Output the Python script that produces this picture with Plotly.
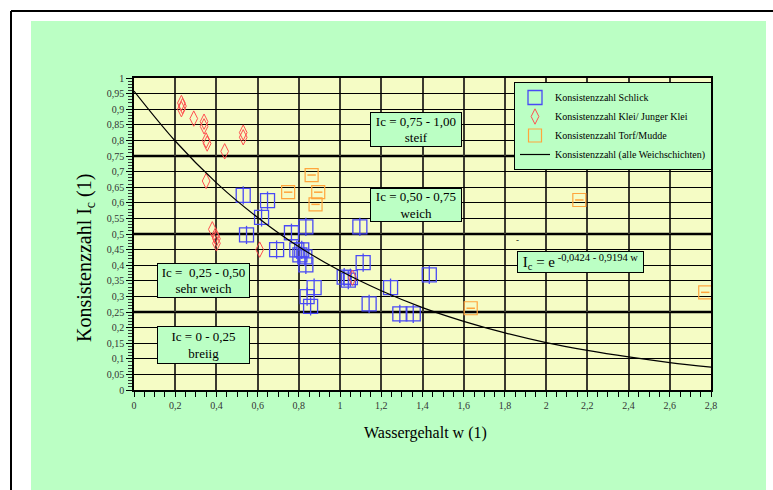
import plotly.graph_objects as go

# ---------------- data ----------------
schlick_w = [0.53, 0.648, 0.619, 0.546, 0.692, 0.764, 0.834, 1.096, 0.79, 0.814, 0.805,
             0.829, 0.834, 1.112, 1.02, 1.04, 1.05, 0.874, 0.84, 0.857, 1.141, 1.245,
             1.433, 1.29, 1.355]
schlick_ic = [0.624, 0.607, 0.553, 0.497, 0.450, 0.504, 0.523, 0.523, 0.449, 0.449, 0.433,
              0.427, 0.401, 0.408, 0.362, 0.352, 0.360, 0.328, 0.299, 0.268, 0.276, 0.328,
              0.369, 0.244, 0.244]

klei_w = [0.23, 0.235, 0.23, 0.29, 0.34, 0.34, 0.35, 0.355, 0.53, 0.53, 0.44, 0.35,
          0.38, 0.395, 0.40, 0.40, 0.61, 1.06]
klei_ic = [0.90, 0.91, 0.92, 0.87, 0.86, 0.845, 0.80, 0.79, 0.81, 0.825, 0.765, 0.67,
           0.515, 0.495, 0.485, 0.47, 0.45, 0.36]

torf_w = [0.862, 0.748, 0.894, 0.881, 2.161, 1.634, 2.772]
torf_ic = [0.689, 0.634, 0.634, 0.595, 0.609, 0.262, 0.313]

fit_w = [0, 0.2, 0.4, 0.6, 0.8, 1.0, 1.2, 1.4, 1.6, 1.8, 2.0, 2.2, 2.4, 2.6, 2.8]
fit_ic = [0.958, 0.798, 0.664, 0.553, 0.459, 0.382, 0.318, 0.264, 0.220, 0.183,
          0.152, 0.127, 0.106, 0.088, 0.073]

zone_limits = [0.25, 0.5, 0.75]

legend_names = ["Konsistenzzahl Schlick", "Konsistenzzahl Klei/ Junger Klei",
                "Konsistenzzahl Torf/Mudde", "Konsistenzzahl (alle Weichschichten)"]

zone_labels = ["Ic = 0,75 - 1,00<br>steif", "Ic = 0,50 - 0,75<br>weich",
               "Ic =  0,25 - 0,50<br>sehr weich", "Ic = 0 - 0,25<br>breiig"]
formula_label = "I<sub>c</sub> = e<sup> -0,0424 - 0,9194 w</sup>"

x_title = "Wassergehalt w (1)"
y_title = "Konsistenzzahl I<sub>c</sub> (1)"

# ---------------- layout geometry ----------------
W, H = 773, 490
PL, PR, PT, PB = 134, 711, 78, 390


def px(x):
    return (x - PL) / (PR - PL)


def py(y):
    return (PB - y) / (PB - PT)


GREEN = "#bbffc4"
YELLOW = "#f5fcc5"
BLUE = "#4a4af5"
RED = "#ff5050"
ORANGE = "#ffa53c"
FONT = "Liberation Serif"

fig = go.Figure()

fig.add_trace(go.Scatter(x=schlick_w, y=schlick_ic, mode="markers", name=legend_names[0],
                         marker=dict(symbol="square-open", size=14, color=BLUE,
                                     line=dict(width=1.3, color=BLUE))))
fig.add_trace(go.Scatter(x=schlick_w, y=schlick_ic, mode="markers", showlegend=False,
                         hoverinfo="skip",
                         marker=dict(symbol="line-ns", size=13, color=BLUE,
                                     line=dict(width=1.3, color=BLUE))))
fig.add_trace(go.Scatter(x=klei_w, y=klei_ic, mode="markers", name=legend_names[1],
                         marker=dict(symbol="diamond-tall-open", size=11, color=RED,
                                     line=dict(width=1, color=RED))))
fig.add_trace(go.Scatter(x=torf_w, y=torf_ic, mode="markers", name=legend_names[2],
                         marker=dict(symbol="square-open", size=13, color=ORANGE,
                                     line=dict(width=1.2, color=ORANGE))))
fig.add_trace(go.Scatter(x=torf_w, y=torf_ic, mode="markers", showlegend=False,
                         hoverinfo="skip",
                         marker=dict(symbol="line-ew", size=6, color=ORANGE,
                                     line=dict(width=1.5, color=ORANGE))))
fig.add_trace(go.Scatter(x=fit_w, y=fit_ic, mode="lines", name=legend_names[3],
                         line=dict(color="black", width=1.2, shape="spline")))

shapes = [
    # green chart area
    dict(type="rect", xref="paper", yref="paper", x0=px(31), x1=px(766), y0=py(500), y1=py(21),
         fillcolor=GREEN, line=dict(width=0), layer="below"),
    # yellow plot area
    dict(type="rect", xref="paper", yref="paper", x0=0, x1=1, y0=0, y1=1,
         fillcolor=YELLOW, line=dict(width=0), layer="below"),
    # outer frame lines
    dict(type="line", xref="paper", yref="paper", x0=px(11), x1=px(775), y0=py(11), y1=py(11),
         line=dict(color="black", width=2)),
    dict(type="line", xref="paper", yref="paper", x0=px(11), x1=px(11), y0=py(11), y1=py(500),
         line=dict(color="black", width=2)),
]
for z in zone_limits:
    shapes.append(dict(type="line", xref="paper", yref="y", x0=0, x1=1, y0=z, y1=z,
                       line=dict(color="black", width=2.5), layer="below"))

box_font = dict(family=FONT, size=13, color="black")
boxes = [  # (center x px, center y px, w, h)
    (416, 129.5, 92, 35),
    (416, 205, 92, 34),
    (203.5, 280.5, 93, 35),
    (203.5, 345, 93, 38),
]
annotations = []
for txt, (cx, cy, bw, bh) in zip(zone_labels, boxes):
    annotations.append(dict(xref="paper", yref="paper", x=px(cx), y=py(cy), text=txt,
                            showarrow=False, xanchor="center", yanchor="middle",
                            font=box_font, bgcolor=GREEN, bordercolor="black",
                            borderwidth=1, borderpad=0, width=bw - 2, height=bh - 2))
annotations.append(dict(xref="paper", yref="paper", x=px(580.5), y=py(262), text=formula_label,
                        showarrow=False, xanchor="center", yanchor="middle",
                        font=dict(family=FONT, size=15, color="black"), bgcolor=GREEN,
                        bordercolor="black", borderwidth=1, borderpad=0, width=125, height=20))
annotations.append(dict(xref="paper", yref="paper", x=px(521), y=py(240), text="-",
                        showarrow=False, font=dict(family=FONT, size=9, color="black")))
annotations.append(dict(xref="paper", yref="paper", x=px(425), y=py(433), text=x_title,
                        showarrow=False, xanchor="center", yanchor="middle",
                        font=dict(family=FONT, size=16, color="black")))
annotations.append(dict(xref="paper", yref="paper", x=px(85), y=py(258), text=y_title,
                        showarrow=False, xanchor="center", yanchor="middle", textangle=-90,
                        font=dict(family=FONT, size=20, color="black")))

tickfont = dict(family=FONT, size=10, color="#333333")

fig.update_layout(
    width=W, height=H,
    margin=dict(l=PL, r=W - PR, t=PT, b=H - PB, autoexpand=False),
    paper_bgcolor="white", plot_bgcolor=YELLOW,
    separators=",.",
    showlegend=True,
    legend=dict(x=px(514), y=py(82), xanchor="left", yanchor="top", bgcolor=GREEN,
                bordercolor="black", borderwidth=1, font=dict(family=FONT, size=10, color="black"),
                tracegroupgap=0, itemwidth=30),
    xaxis=dict(range=[0, 2.8], tick0=0, dtick=0.2, showgrid=True, gridcolor="#3a3a30",
               gridwidth=1.5, zeroline=False, showline=True, linecolor="black", linewidth=1.5,
               mirror=True, ticks="outside", ticklen=5, tickcolor="black", tickwidth=1,
               tickfont=tickfont,
               minor=dict(dtick=0.05, ticks="outside", ticklen=5, tickcolor="black",
                          showgrid=False)),
    yaxis=dict(range=[0, 1], tick0=0, dtick=0.05, showgrid=True, gridcolor="black",
               gridwidth=1, zeroline=False, showline=True, linecolor="black", linewidth=1.5,
               mirror=True, ticks="outside", ticklen=6, tickcolor="black", tickwidth=1,
               tickfont=tickfont,
               minor=dict(dtick=0.01, ticks="outside", ticklen=4, tickcolor="#333333",
                          showgrid=False)),
    shapes=shapes,
    annotations=annotations,
)

fig.write_html("out.html", config={"displayModeBar": False},
               post_script="document.body.style.margin='0';document.body.style.overflow='hidden';")
